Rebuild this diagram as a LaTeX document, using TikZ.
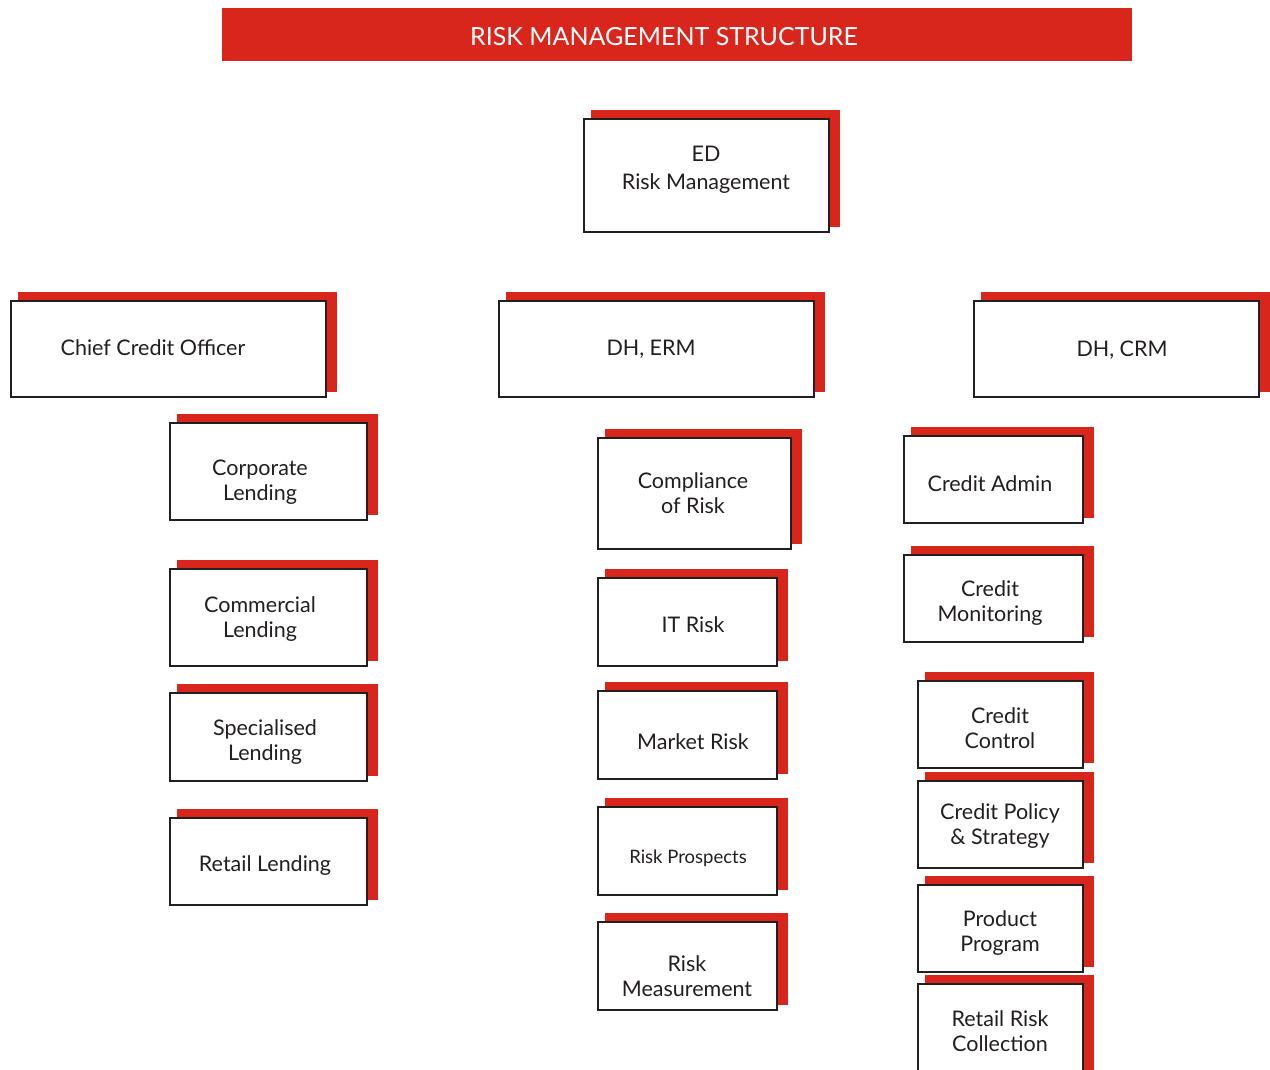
\documentclass[tikz,border=0pt]{standalone}
\usepackage{fontspec}
\setmainfont{Lato}
\usetikzlibrary{fit}
\definecolor{brandred}{HTML}{D9261C}
\definecolor{boxline}{HTML}{231F20}
\tikzset{
  orgbox/.style={draw=boxline, line width=2.6pt, fill=white, inner sep=0pt, rectangle},
  orgtext/.style={font=\fontsize{21.5}{25}\selectfont, text=boxline, align=center, inner sep=0pt, yshift=-2pt},
}
% #1 name, #2 x1, #3 y1, #4 x2, #5 y2
\newcommand\orgunit[5]{%
  \fill[brandred] ({#2+7},{#3-9}) rectangle ({#4+11},{#5-5});
  \node[orgbox, fit={(#2,#3)(#4,#5)}] (#1) {};
}
\begin{document}
\begin{tikzpicture}[x=1pt,y=-1pt]
\useasboundingbox (0,0) rectangle (1270,1070);
% title
\node[fill=brandred, inner sep=0pt, minimum width=910pt, minimum height=53pt, anchor=north west,
      text=white, font=\fontsize{25}{28}\selectfont] (title) at (222,8) {};
\node[text=white, font=\fontsize{25}{28}\selectfont, inner sep=0pt] (titletext) at (664,37) {RISK MANAGEMENT STRUCTURE};
% top
\orgunit{ed}{584}{119}{829}{232}
\node[orgtext, font=\fontsize{21.5}{28}\selectfont] (ted) at (706,168) {ED\\Risk Management};
% level 2
\orgunit{cco}{11}{301}{326}{397}
\node[orgtext] (tcco) at (153,346) {Chief Credit Officer};
\orgunit{erm}{499}{301}{814}{397}
\node[orgtext] (term) at (651,347) {DH, ERM};
\orgunit{crm}{974}{301}{1259}{397}
\node[orgtext] (tcrm) at (1122,348) {DH, CRM};
% left column
\orgunit{corp}{170}{423}{367}{520}
\node[orgtext] (tcorp) at (260,480) {Corporate\\Lending};
\orgunit{comm}{170}{569}{367}{666}
\node[orgtext] (tcomm) at (260,617) {Commercial\\Lending};
\orgunit{spec}{170}{693}{367}{781}
\node[orgtext] (tspec) at (265,740) {Specialised\\Lending};
\orgunit{retl}{170}{818}{367}{905}
\node[orgtext] (tretl) at (265,864) {Retail Lending};
% middle column
\orgunit{comp}{598}{438}{791}{549}
\node[orgtext] (tcomp) at (693,491) {Compliance\\of Risk};
\orgunit{itr}{598}{578}{777}{666}
\node[orgtext] (titr) at (693,623) {IT Risk};
\orgunit{mkt}{598}{691}{777}{779}
\node[orgtext] (tmkt) at (693,740) {Market Risk};
\orgunit{prosp}{598}{807}{777}{895}
\node[orgtext, font=\fontsize{18.5}{24}\selectfont] (tprosp) at (688,856) {Risk Prospects};
\orgunit{meas}{598}{922}{777}{1010}
\node[orgtext] (tmeas) at (687,974) {Risk\\Measurement};
% right column
\orgunit{adm}{904}{436}{1083}{523}
\node[orgtext] (tadm) at (990,482) {Credit Admin};
\orgunit{mon}{904}{555}{1083}{642}
\node[orgtext] (tmon) at (990,601) {Credit\\Monitoring};
\orgunit{ctl}{918}{681}{1083}{768}
\node[orgtext] (tctl) at (1000,726) {Credit\\Control};
\orgunit{pol}{918}{781}{1083}{868}
\node[orgtext] (tpol) at (1000,824) {Credit Policy\\\& Strategy};
\orgunit{prod}{918}{885}{1083}{972}
\node[orgtext] (tprod) at (1000,931) {Product\\Program};
\orgunit{rrc}{918}{984}{1083}{1085}
\node[orgtext] (trrc) at (1000,1029) {Retail Risk\\Collection};
\end{tikzpicture}
\end{document}
